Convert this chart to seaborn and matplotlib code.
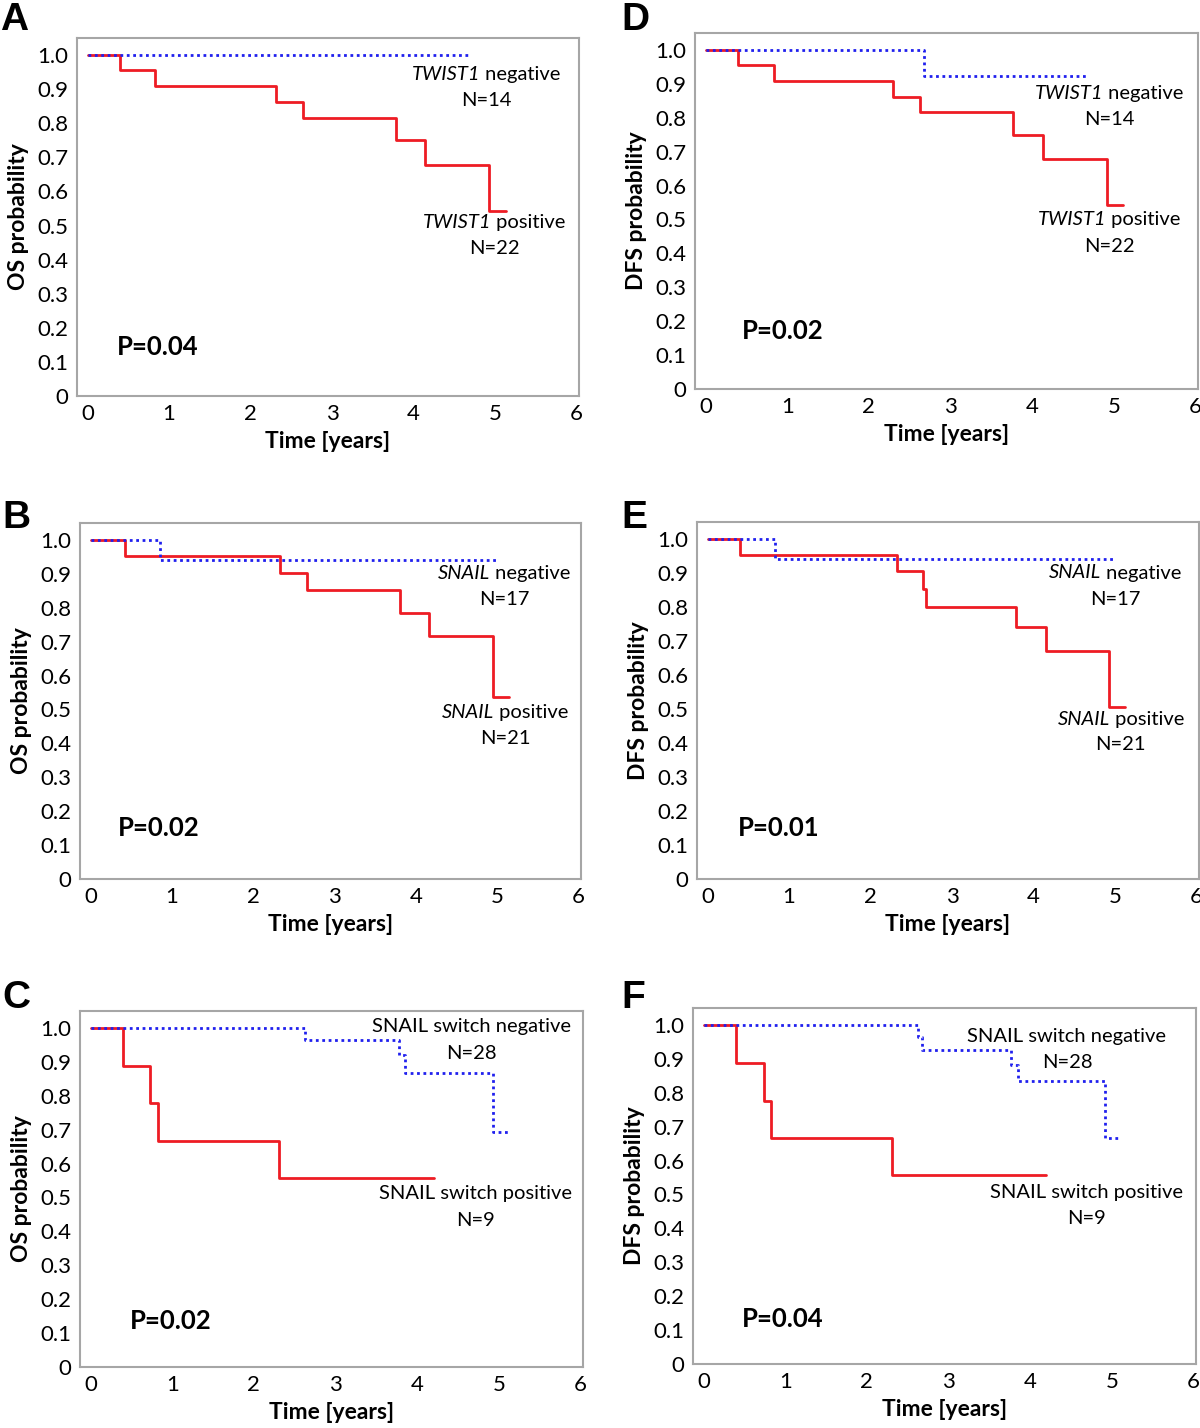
"""
Kaplan-Meier curves (OS / DFS) for TWIST1, SNAIL and SNAIL switch groups.
"""

import pandas as pd
import seaborn as sns
from matplotlib import pyplot as plt
from matplotlib.offsetbox import AnnotationBbox, HPacker, TextArea

# ---- data (step start times, survival after step) ----
twist_os_pos_time = [0, 0.40, 0.83, 2.31, 2.64, 3.78, 4.14, 4.93, 5.13]
twist_os_pos_surv = [1.0, 0.955, 0.909, 0.862, 0.816, 0.750, 0.678, 0.542, 0.542]
twist_os_neg_time = [0, 4.68]
twist_os_neg_surv = [1.0, 1.0]

twist_dfs_pos_time = [0, 0.40, 0.84, 2.30, 2.62, 3.77, 4.13, 4.91, 5.11]
twist_dfs_pos_surv = [1.0, 0.955, 0.909, 0.862, 0.816, 0.750, 0.678, 0.542, 0.542]
twist_dfs_neg_time = [0, 2.67, 4.66]
twist_dfs_neg_surv = [1.0, 0.923, 0.923]

snail_os_pos_time = [0, 0.42, 2.33, 2.66, 3.80, 4.16, 4.95, 5.15]
snail_os_pos_surv = [1.0, 0.952, 0.903, 0.851, 0.785, 0.717, 0.536, 0.536]
snail_os_neg_time = [0, 0.85, 5.01]
snail_os_neg_surv = [1.0, 0.941, 0.941]

snail_dfs_pos_time = [0, 0.40, 2.32, 2.64, 2.68, 3.78, 4.15, 4.93, 5.12]
snail_dfs_pos_surv = [1.0, 0.952, 0.905, 0.853, 0.801, 0.740, 0.672, 0.505, 0.505]
snail_dfs_neg_time = [0, 0.83, 4.99]
snail_dfs_neg_surv = [1.0, 0.941, 0.941]

switch_os_pos_time = [0, 0.40, 0.73, 0.83, 2.31, 4.20]
switch_os_pos_surv = [1.0, 0.889, 0.778, 0.667, 0.556, 0.556]
switch_os_neg_time = [0, 2.63, 3.78, 3.85, 4.93, 5.12]
switch_os_neg_surv = [1.0, 0.965, 0.919, 0.867, 0.693, 0.693]

switch_dfs_pos_time = [0, 0.40, 0.74, 0.83, 2.31, 4.19]
switch_dfs_pos_surv = [1.0, 0.888, 0.777, 0.666, 0.556, 0.556]
switch_dfs_neg_time = [0, 2.62, 2.68, 3.77, 3.85, 4.92, 5.09]
switch_dfs_neg_surv = [1.0, 0.965, 0.927, 0.881, 0.834, 0.666, 0.666]

panel_letters = ["A", "D", "B", "E", "C", "F"]
y_labels = ["OS probability", "DFS probability"] * 3
p_values = ["P=0.04", "P=0.02", "P=0.02", "P=0.01", "P=0.02", "P=0.04"]
# (italic part, regular part)
neg_labels = [("TWIST1", " negative"), ("TWIST1", " negative"),
              ("SNAIL", " negative"), ("SNAIL", " negative"),
              ("", "SNAIL switch negative"), ("", "SNAIL switch negative")]
pos_labels = [("TWIST1", " positive"), ("TWIST1", " positive"),
              ("SNAIL", " positive"), ("SNAIL", " positive"),
              ("", "SNAIL switch positive"), ("", "SNAIL switch positive")]
neg_counts = ["N=14", "N=14", "N=17", "N=17", "N=28", "N=28"]
pos_counts = ["N=22", "N=22", "N=21", "N=21", "N=9", "N=9"]

curves = [
    (twist_os_pos_time, twist_os_pos_surv, twist_os_neg_time, twist_os_neg_surv),
    (twist_dfs_pos_time, twist_dfs_pos_surv, twist_dfs_neg_time, twist_dfs_neg_surv),
    (snail_os_pos_time, snail_os_pos_surv, snail_os_neg_time, snail_os_neg_surv),
    (snail_dfs_pos_time, snail_dfs_pos_surv, snail_dfs_neg_time, snail_dfs_neg_surv),
    (switch_os_pos_time, switch_os_pos_surv, switch_os_neg_time, switch_os_neg_surv),
    (switch_dfs_pos_time, switch_dfs_pos_surv, switch_dfs_neg_time, switch_dfs_neg_surv),
]

# ---- layout (pixels: left, top, right, bottom) and label positions ----
W, H = 1200, 1428
boxes = [(77, 38, 579, 396), (695, 33, 1198, 389),
         (80, 523, 581, 879), (697, 522, 1199, 879),
         (80, 1011, 583, 1367), (693, 1008, 1196, 1364)]
letter_xy = [(0, 20), (621, 20), (2, 518), (621, 518), (2, 998), (621, 998)]
# (x_neg, y_neg, y_negN, x_pos, y_pos, y_posN, x_p, y_p) in data units
label_pos = [
    (4.89, 0.944, 0.866, 4.99, 0.509, 0.432, 0.36, 0.144),
    (4.94, 0.872, 0.795, 4.94, 0.500, 0.421, 0.44, 0.170),
    (5.09, 0.902, 0.825, 5.10, 0.490, 0.413, 0.34, 0.150),
    (5.00, 0.900, 0.823, 5.07, 0.470, 0.395, 0.37, 0.149),
    (4.66, 1.003, 0.926, 4.71, 0.511, 0.433, 0.48, 0.137),
    (4.45, 0.967, 0.890, 4.69, 0.505, 0.430, 0.47, 0.132),
]

RED = "#ee1c24"
BLUE = "#2020ee"
GREY = "#a6a6a6"
FS_NOTE = 14.5

sns.set_style("white")
plt.rcParams["font.family"] = ["Lato", "DejaVu Sans"]
for key in ["text.color", "axes.labelcolor", "xtick.color", "ytick.color"]:
    plt.rcParams[key] = "black"


def mixed_label(ax, x, y, parts):
    """Centered label with an italic gene name followed by regular text."""
    italic, regular = parts
    areas = []
    if italic:
        areas.append(TextArea(italic, textprops=dict(fontsize=FS_NOTE, style="italic")))
    areas.append(TextArea(regular, textprops=dict(fontsize=FS_NOTE)))
    box = HPacker(children=areas, align="baseline", pad=0, sep=0)
    ab = AnnotationBbox(box, (x, y), xycoords="data", frameon=False,
                        box_alignment=(0.5, 0.5), pad=0)
    ax.add_artist(ab)


fig = plt.figure(figsize=(W / 100, H / 100), dpi=100)

for i, (l, t, r, b) in enumerate(boxes):
    ax = fig.add_axes([l / W, 1 - b / H, (r - l) / W, (b - t) / H])
    pt, ps, nt, ns = curves[i]
    pos_df = pd.DataFrame({"time": pt, "surv": ps})
    neg_df = pd.DataFrame({"time": nt, "surv": ns})
    sns.lineplot(data=pos_df, x="time", y="surv", ax=ax, color=RED, lw=2.0,
                 drawstyle="steps-post", estimator=None, sort=False)
    sns.lineplot(data=neg_df, x="time", y="surv", ax=ax, color=BLUE, lw=2.0,
                 linestyle=(0, (1, 1.3)), drawstyle="steps-post",
                 estimator=None, sort=False)

    ax.set_xlim(-0.13, 6.03)
    ax.set_ylim(0, 1.05)
    ax.set_xticks(range(7))
    yt = [k / 10 for k in range(11)]
    ax.set_yticks(yt)
    ax.set_yticklabels(["0"] + [f"{v:.1f}" for v in yt[1:]])
    ax.tick_params(labelsize=16, length=3, color=GREY, width=1, pad=3)
    for s in ax.spines.values():
        s.set_color(GREY)
        s.set_linewidth(1.5)
    ax.set_xlabel("Time [years]", fontsize=16.5, fontweight="bold", labelpad=5)
    ax.set_ylabel(y_labels[i], fontsize=16.5, fontweight="bold", labelpad=6)

    xn, yn, ynn, xp, yp, ypn, xpv, ypv = label_pos[i]
    mixed_label(ax, xn, yn, neg_labels[i])
    ax.text(xn, ynn, neg_counts[i], ha="center", va="center", fontsize=FS_NOTE)
    mixed_label(ax, xp, yp, pos_labels[i])
    ax.text(xp, ypn, pos_counts[i], ha="center", va="center", fontsize=FS_NOTE)
    ax.text(xpv, ypv, p_values[i], ha="left", va="center", fontsize=18.5,
            fontweight="bold")

    lx, ly = letter_xy[i]
    fig.text(lx / W, 1 - ly / H, panel_letters[i], ha="left", va="center",
             fontsize=28, fontweight="bold", family="Liberation Sans")

fig.savefig("out.png", dpi=100)
